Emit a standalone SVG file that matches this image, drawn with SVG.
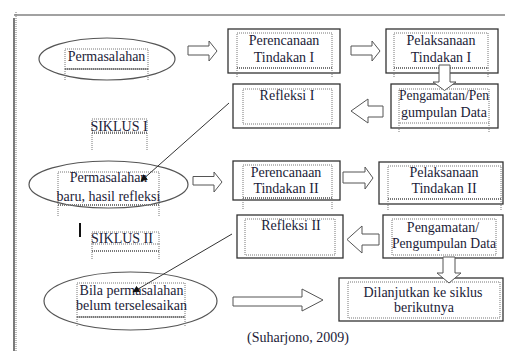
<svg xmlns="http://www.w3.org/2000/svg" width="505" height="351" viewBox="0 0 505 351">
<style>
  .box{fill:#fff;stroke:#333;stroke-width:1.3}
  .ell{fill:#fff;stroke:#555;stroke-width:1.2}
  .dot{fill:none;stroke:#777;stroke-width:1;stroke-dasharray:1 1}
  .dotb{fill:none;stroke:#777;stroke-width:2;stroke-dasharray:1 1}
  .blk{fill:#fff;stroke:#555;stroke-width:1}
  .t{font-family:"Liberation Serif","Times New Roman",serif;font-size:14px;fill:#1c1c38;text-anchor:middle}
  .ln{stroke:#333;stroke-width:1;fill:none}
</style>
<defs>
  <marker id="ah" viewBox="0 0 10 10" refX="9" refY="5" markerWidth="7" markerHeight="7" orient="auto" markerUnits="userSpaceOnUse">
    <path d="M0,0 L10,5 L0,10 Z" fill="#111"/>
  </marker>
</defs>
<rect width="505" height="351" fill="#fff"/>

<g id="frame">
  <line x1="14" y1="15" x2="505" y2="15" stroke="#444" stroke-width="1.2"/>
  <line x1="14" y1="18" x2="14" y2="351" stroke="#222" stroke-width="1.2"/>
  <line x1="16" y1="12" x2="16" y2="351" class="dot"/>
</g>

<g id="n-permasalahan">
  <ellipse class="ell" cx="107" cy="59" rx="68" ry="21"/>
  <rect class="dot" x="65" y="49" width="83" height="20"/>
  <line class="dotb" x1="65" y1="69" x2="148" y2="69"/>
  <path class="dot" d="M65,69 V80 M148,69 V80"/>
  <text class="t" x="106.5" y="61">Permasalahan</text>
</g>

<g id="n-perencanaan1">
  <rect class="box" x="228" y="29" width="112" height="44"/>
  <rect class="dot" x="237" y="33" width="95" height="35"/>
  <line class="dotb" x1="237" y1="68" x2="332" y2="68"/>
  <path class="dot" d="M237,68 V78 M332,68 V78"/>
  <text class="t" x="284" y="45">Perencanaan</text>
  <text class="t" x="284" y="62">Tindakan I</text>
</g>

<g id="n-pelaksanaan1">
  <rect class="box" x="386" y="29" width="112" height="44"/>
  <rect class="dot" x="394" y="33" width="94" height="35"/>
  <line class="dotb" x1="394" y1="68" x2="488" y2="68"/>
  <path class="dot" d="M394,68 V78 M488,68 V78"/>
  <text class="t" x="441" y="45">Pelaksanaan</text>
  <text class="t" x="441" y="62">Tindakan I</text>
</g>

<g id="n-refleksi1">
  <rect class="box" x="233" y="84" width="107" height="44"/>
  <rect class="dot" x="243" y="89" width="89" height="35"/>
  <text class="t" x="287" y="100">Refleksi I</text>
</g>

<g id="n-pengamatan1">
  <rect class="box" x="391" y="84" width="107" height="44"/>
  <rect class="dot" x="399" y="89" width="90" height="34"/>
  <path class="dot" d="M399,123 V133 M489,123 V133"/>
  <text class="t" x="444" y="100" textLength="90" lengthAdjust="spacingAndGlyphs">Pengamatan/Pen</text>
  <text class="t" x="444" y="117">gumpulan Data</text>
</g>

<g id="n-siklus1">
  <rect class="dot" x="92" y="119" width="55" height="13"/>
  <line class="dotb" x1="92" y1="133" x2="147" y2="133"/>
  <path class="dot" d="M92,133 V150 M147,133 V150"/>
  <text class="t" x="119" y="131">SIKLUS I</text>
</g>

<g id="n-permasalahan-baru">
  <ellipse class="ell" cx="108.5" cy="184.5" rx="79.5" ry="23.5"/>
  <rect class="dot" x="58" y="172" width="101" height="33"/>
  <line class="dotb" x1="58" y1="205" x2="159" y2="205"/>
  <path class="dot" d="M58,205 V217 M159,205 V217"/>
  <text class="t" x="108.5" y="182">Permasalahan</text>
  <text class="t" x="108.5" y="201">baru, hasil refleksi</text>
</g>

<g id="cursor">
  <line x1="80" y1="223" x2="80" y2="237" stroke="#111" stroke-width="2"/>
</g>

<g id="n-siklus2">
  <rect class="dot" x="92" y="232" width="67" height="12"/>
  <line class="dotb" x1="92" y1="251" x2="159" y2="251"/>
  <path class="dot" d="M92,244 V260 M159,244 V260"/>
  <text class="t" x="122" y="243">SIKLUS II</text>
</g>

<g id="n-perencanaan2">
  <rect class="box" x="233" y="161" width="107" height="39"/>
  <rect class="dot" x="243" y="165" width="89" height="33"/>
  <line class="dotb" x1="243" y1="198" x2="332" y2="198"/>
  <path class="dot" d="M243,198 V210 M332,198 V210"/>
  <text class="t" x="286" y="177">Perencanaan</text>
  <text class="t" x="286" y="193">Tindakan II</text>
</g>

<g id="n-pelaksanaan2">
  <rect class="box" x="379" y="162" width="124" height="42"/>
  <rect class="dot" x="388" y="166" width="113" height="33"/>
  <line class="dotb" x1="388" y1="199" x2="501" y2="199"/>
  <path class="dot" d="M388,199 V210 M501,199 V210"/>
  <text class="t" x="444" y="177">Pelaksanaan</text>
  <text class="t" x="444" y="193">Tindakan II</text>
</g>

<g id="n-refleksi2">
  <rect class="box" x="237" y="215" width="106" height="43"/>
  <rect class="dot" x="245" y="219" width="90" height="36"/>
  <text class="t" x="291" y="230">Refleksi II</text>
</g>

<g id="n-pengamatan2">
  <rect class="box" x="383" y="215" width="120" height="43"/>
  <rect class="dot" x="392" y="219" width="104" height="36"/>
  <text class="t" x="443" y="232">Pengamatan/</text>
  <text class="t" x="444" y="248" textLength="104" lengthAdjust="spacingAndGlyphs">Pengumpulan Data</text>
</g>

<g id="n-bila">
  <ellipse class="ell" cx="130.5" cy="301" rx="86.5" ry="29"/>
  <rect class="dot" x="77" y="283" width="108" height="34"/>
  <line class="dotb" x1="77" y1="317" x2="185" y2="317"/>
  <path class="dot" d="M77,317 V327 M185,317 V327"/>
  <text class="t" x="131.5" y="295">Bila permasalahan</text>
  <text class="t" x="131.5" y="310">belum terselesaikan</text>
</g>

<g id="n-dilanjutkan">
  <rect class="box" x="339" y="278" width="164" height="43"/>
  <rect class="dot" x="348" y="282" width="152" height="36"/>
  <text class="t" x="423" y="297">Dilanjutkan ke siklus</text>
  <text class="t" x="424" y="312">berikutnya</text>
</g>

<g id="connectors">
  <path class="blk" d="M188,46 H209 V41 L217,51 L209,61 V55 H188 Z"/>
  <path class="blk" d="M351,46 H372 V41 L380,51 L372,61 V55 H351 Z"/>
  <path class="blk" d="M439,65 V82 H433 L444.5,90.5 L456,82 H450 V65 Z"/>
  <path class="blk" d="M383,106 H368 V99 L351,111 L368,123 V117 H383 Z"/>
  <path class="blk" d="M193,176.5 H214 V172 L222,182 L214,192 V185 H193 Z"/>
  <path class="blk" d="M343,172 H365 V167 L373,178 L365,189 V183 H343 Z"/>
  <path class="blk" d="M379,234 H362 V226 L347,239.5 L362,253 V245 H379 Z"/>
  <path class="blk" d="M443,257 V273 H437 L449,283 L461,273 H455 V257 Z"/>
  <path class="blk" d="M233,297 H302 V289 L323,300 L302,311 V306 H233 Z"/>
  <line class="ln" x1="229" y1="103" x2="141" y2="181" marker-end="url(#ah)"/>
  <line class="ln" x1="232" y1="234" x2="133" y2="292" marker-end="url(#ah)"/>
</g>

<g id="caption">
  <text class="t" x="298" y="342">(Suharjono, 2009)</text>
</g>
</svg>
